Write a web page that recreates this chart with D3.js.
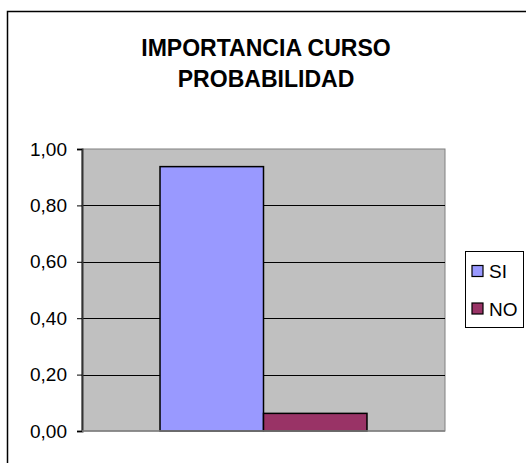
<!DOCTYPE html>
<html>
<head>
<meta charset="utf-8">
<script src="https://cdn.jsdelivr.net/npm/d3@7"></script>
<style>
  html, body { margin: 0; padding: 0; background: #fff; }
  svg { display: block; font-family: "Liberation Sans", Arial, sans-serif; }
</style>
</head>
<body>
<svg id="chart" width="526" height="463"></svg>
<script>
// Chart data
const titleLines = ["IMPORTANCIA CURSO", "PROBABILIDAD"];
const seriesNames = ["SI", "NO"];
const seriesValues = [0.9375, 0.0625];
const seriesColors = ["#9999FF", "#993366"];
const tickValues = [0, 0.2, 0.4, 0.6, 0.8, 1.0];

const svg = d3.select("#chart");

// Outer chart frame
svg.append("rect")
  .attr("x", 7.5).attr("y", 11.5)
  .attr("width", 540).attr("height", 480)
  .attr("fill", "#fff").attr("stroke", "#000").attr("stroke-width", 1.5);

// Title, slightly condensed
const titleCx = 266;
const title = svg.append("text")
  .attr("text-anchor", "middle")
  .attr("font-weight", "bold")
  .attr("font-size", 24)
  .attr("transform", `translate(${titleCx},0) scale(0.96,1)`);
titleLines.forEach((t, i) => {
  title.append("tspan").attr("x", 0).attr("y", 56 + i * 31).text(t);
});

// Plot area
const plot = { left: 82, right: 445, top: 149, bottom: 431 };

const y = d3.scaleLinear().domain([0, 1]).range([plot.bottom, plot.top]);
const x = d3.scaleBand().domain(["cat"]).range([plot.left, plot.right]).paddingInner(0).paddingOuter(0.377);
const xs = d3.scaleBand().domain(seriesNames).range([0, x.bandwidth()]);

svg.append("rect")
  .attr("x", plot.left).attr("y", plot.top)
  .attr("width", plot.right - plot.left).attr("height", plot.bottom - plot.top)
  .attr("fill", "#C0C0C0").attr("stroke", "#808080").attr("stroke-width", 1);

// Horizontal gridlines
svg.append("g")
  .selectAll("line")
  .data(tickValues.filter(v => v > 0 && v < 1))
  .join("line")
  .attr("x1", plot.left).attr("x2", plot.right)
  .attr("y1", d => Math.round(y(d)) + 0.5).attr("y2", d => Math.round(y(d)) + 0.5)
  .attr("stroke", "#000").attr("stroke-width", 1);

// Bars
svg.append("g")
  .selectAll("rect")
  .data(seriesNames.map((n, i) => ({ name: n, value: seriesValues[i], color: seriesColors[i] })))
  .join("rect")
  .attr("x", d => x("cat") + xs(d.name))
  .attr("y", d => y(d.value))
  .attr("width", xs.bandwidth())
  .attr("height", d => y(0) - y(d.value))
  .attr("fill", d => d.color)
  .attr("stroke", "#000").attr("stroke-width", 1.5);

// Y axis
const fmt = d => d3.format(".2f")(d).replace(".", ",");
const axis = svg.append("g")
  .attr("transform", `translate(${plot.left},0)`)
  .call(d3.axisLeft(y).tickValues(tickValues).tickFormat(fmt).tickSize(5).tickPadding(10));
axis.select(".domain").attr("stroke", "#333").attr("stroke-width", 2);
axis.selectAll(".tick line").attr("stroke", "#000");
axis.selectAll(".tick text")
  .attr("font-size", 19)
  .attr("font-family", "Liberation Sans, Arial, sans-serif")
  .attr("fill", "#000");

// Bottom axis line
svg.append("line")
  .attr("x1", plot.left).attr("x2", plot.right)
  .attr("y1", plot.bottom).attr("y2", plot.bottom)
  .attr("stroke", "#808080").attr("stroke-width", 1.5);

// Legend
const legend = svg.append("g");
legend.append("rect")
  .attr("x", 465.5).attr("y", 251.5).attr("width", 58).attr("height", 76)
  .attr("fill", "#fff").attr("stroke", "#000").attr("stroke-width", 1);
const items = legend.selectAll("g.item")
  .data(seriesNames.map((n, i) => ({ name: n, color: seriesColors[i] })))
  .join("g").attr("class", "item")
  .attr("transform", (d, i) => `translate(472, ${265.5 + i * 37.5})`);
items.append("rect")
  .attr("width", 11).attr("height", 11)
  .attr("fill", d => d.color).attr("stroke", "#000").attr("stroke-width", 1.2);
items.append("text")
  .attr("x", 17).attr("y", 12.5)
  .attr("font-size", 19)
  .text(d => d.name);
</script>
</body>
</html>
